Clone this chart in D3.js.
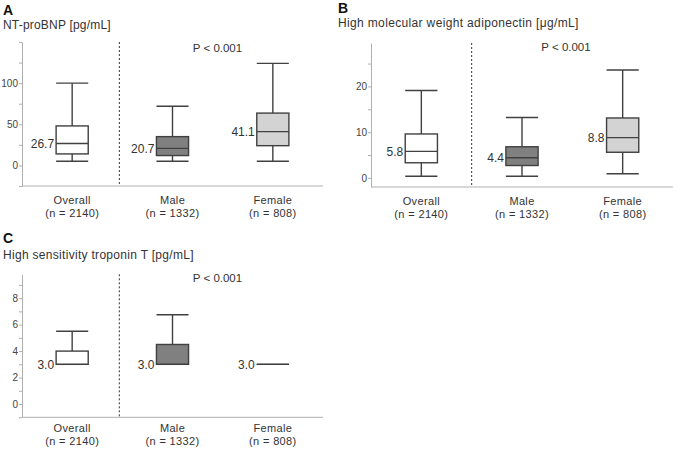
<!DOCTYPE html>
<html><head><meta charset="utf-8">
<script src="https://cdn.jsdelivr.net/npm/d3@7/dist/d3.min.js"></script>
<style>
body{margin:0;background:#fff;}
svg text{font-family:"Liberation Sans",Arial,sans-serif;}
</style></head>
<body><svg id="c" width="675" height="451"></svg>
<script>
const categories = ["Overall","Male","Female"];
const nLabels = ["(n = 2140)","(n = 1332)","(n = 808)"];
const fills = ["#ffffff","#808080","#d3d3d3"];
const pText = "P < 0.001";

// Panel A: NT-proBNP
const aLow = [5, 5, 5];
const aQ1 = [14, 12, 24];
const aMed = [26.7, 20.7, 41.1];
const aQ3 = [48, 35, 63.6];
const aHigh = [100, 72, 124];
const aTicks = [0, 50, 100];

// Panel B: HMW adiponectin
const bLow = [0.35, 0.35, 0.9];
const bQ1 = [3.3, 2.7, 5.6];
const bMed = [5.8, 4.4, 8.8];
const bQ3 = [9.6, 6.8, 13.1];
const bHigh = [19.1, 13.2, 23.6];
const bTicks = [0, 10, 20];

// Panel C: hs troponin T
const cLow = [3.0, 3.0, 3.0];
const cQ1 = [3.0, 3.0, 3.0];
const cMed = [3.0, 3.0, 3.0];
const cQ3 = [4.0, 4.5, 3.0];
const cHigh = [5.5, 6.75, 3.0];
const cTicks = [0, 2, 4, 6, 8];

const panels = [
  {letter:"A", title:"NT-proBNP [pg/mL]", low:aLow,q1:aQ1,med:aMed,q3:aQ3,high:aHigh, ticks:aTicks, minorStep:25,
   domain:[-25,150], yRange:[186,42], xRange:[22,323], axisEnd:323, dashX:-3,
   letterY:15, titleY:29, pX:217.5, pY:52, labY:204, titleLS:0.2},
  {letter:"B", title:"High molecular weight adiponectin [\u03bcg/mL]", low:bLow,q1:bQ1,med:bMed,q3:bQ3,high:bHigh, ticks:bTicks, minorStep:5,
   domain:[-2,29.5], yRange:[187,43], xRange:[371,673], axisEnd:673, dashX:0,
   letterY:13, titleY:27, pX:566, pY:51, labY:205, lx:338, titleLS:0.35},
  {letter:"C", title:"High sensitivity troponin T [pg/mL]", low:cLow,q1:cQ1,med:cMed,q3:cQ3,high:cHigh, ticks:cTicks, minorStep:1,
   domain:[-1,9.8], yRange:[417.3,274.3], xRange:[22,323], axisEnd:323, dashX:-3,
   letterY:243, titleY:259, pX:217.5, pY:282, labY:432, titleLS:0.3}
];

const svg = d3.select("#c");
const stroke = "#404040";

panels.forEach(p => {
  const g = svg.append("g");
  const lx = p.lx !== undefined ? p.lx : 3;
  const x = d3.scaleBand().domain(categories).range(p.xRange);
  const y = d3.scaleLinear().domain(p.domain).range(p.yRange);
  const x0 = p.xRange[0];
  const bw = x.bandwidth() * 0.32;

  g.append("text").attr("x", lx).attr("y", p.letterY).attr("font-size", 14).attr("font-weight", "bold")
    .attr("fill", "#111").text(p.letter);
  g.append("text").attr("x", lx).attr("y", p.titleY).attr("font-size", 12).attr("fill", "#333")
    .attr("letter-spacing", p.titleLS).text(p.title);

  // y axis
  const minor = d3.range(Math.ceil(p.domain[0] / p.minorStep) * p.minorStep, p.domain[1] + 1e-9, p.minorStep);
  const yAxis = d3.axisLeft(y).tickValues(minor).tickSize(3).tickSizeOuter(0)
    .tickFormat(d => p.ticks.includes(d) ? d3.format("d")(d) : "");
  const ya = g.append("g").attr("transform", `translate(${x0},0)`).call(yAxis);
  ya.select(".domain").attr("stroke", "#b0b0b0");
  ya.selectAll(".tick line").attr("stroke", "#b0b0b0");
  ya.selectAll(".tick text").attr("font-size", 10).attr("fill", "#444").attr("x", -4)
    .style("font-family", "'Liberation Sans',sans-serif");

  // x axis line
  g.append("line").attr("x1", x0).attr("x2", p.axisEnd).attr("y1", p.yRange[0]).attr("y2", p.yRange[0])
    .attr("stroke", "#b0b0b0");

  // dashed separator
  const dx = x("Male") + p.dashX;
  g.append("line").attr("x1", dx).attr("x2", dx).attr("y1", p.yRange[1]).attr("y2", p.yRange[0])
    .attr("stroke", "#333").attr("stroke-dasharray", "2,2");

  g.append("text").attr("x", p.pX).attr("y", p.pY).attr("text-anchor", "middle").attr("font-size", 11.5)
    .attr("fill", "#333").text(pText);

  categories.forEach((c, i) => {
    const cx = x(c) + x.bandwidth() / 2;
    const bx = cx - bw / 2;
    // whiskers
    g.append("line").attr("x1", cx).attr("x2", cx).attr("y1", y(p.high[i])).attr("y2", y(p.q3[i]))
      .attr("stroke", stroke).attr("stroke-width", 1.4);
    g.append("line").attr("x1", cx).attr("x2", cx).attr("y1", y(p.q1[i])).attr("y2", y(p.low[i]))
      .attr("stroke", stroke).attr("stroke-width", 1.4);
    [p.high[i], p.low[i]].forEach(v => {
      g.append("line").attr("x1", bx).attr("x2", bx + bw).attr("y1", y(v)).attr("y2", y(v))
        .attr("stroke", stroke).attr("stroke-width", 1.4);
    });
    // box
    const h = y(p.q1[i]) - y(p.q3[i]);
    if (h > 0) {
      g.append("rect").attr("x", bx).attr("y", y(p.q3[i])).attr("width", bw).attr("height", h)
        .attr("fill", fills[i]).attr("stroke", stroke).attr("stroke-width", 1.4);
    }
    g.append("line").attr("x1", bx).attr("x2", bx + bw).attr("y1", y(p.med[i])).attr("y2", y(p.med[i]))
      .attr("stroke", stroke).attr("stroke-width", 1.4);
    g.append("text").attr("x", bx - 2).attr("y", y(p.med[i])).attr("dy", "0.35em").attr("text-anchor", "end")
      .attr("font-size", 12).attr("fill", "#333").text(d3.format(".1f")(p.med[i]));
    // x labels
    g.append("text").attr("x", cx).attr("y", p.labY).attr("text-anchor", "middle")
      .attr("font-size", 11).attr("letter-spacing", 0.35).attr("fill", "#333").text(c);
    g.append("text").attr("x", cx).attr("y", p.labY + 12.5).attr("text-anchor", "middle")
      .attr("font-size", 11).attr("letter-spacing", 0.35).attr("fill", "#333").text(nLabels[i]);
  });
});
</script></body></html>
